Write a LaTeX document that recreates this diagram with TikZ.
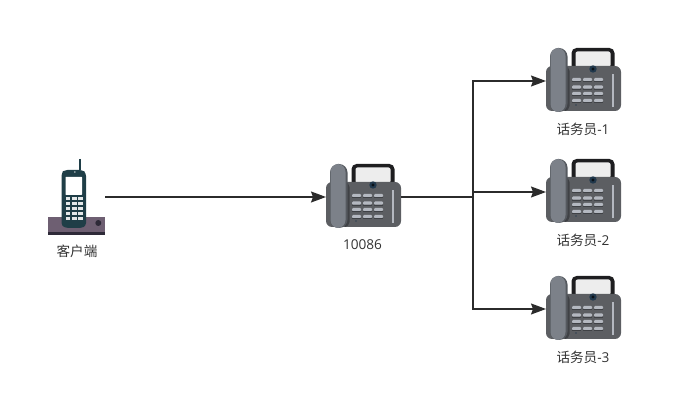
\documentclass[tikz,border=0pt]{standalone}
\usepackage{fontspec}
\setmainfont{Open Sans}
\newfontfamily\cjk{Noto Sans CJK SC}
\usetikzlibrary{arrows.meta}
\definecolor{linecol}{HTML}{2B2B2B}
\definecolor{txtcol}{HTML}{333333}
\definecolor{bodycol}{HTML}{5C5E62}
\definecolor{bodydark}{HTML}{3F4145}
\definecolor{handcol}{HTML}{7C8189}
\definecolor{handdark}{HTML}{55595F}
\definecolor{framecol}{HTML}{1E1E20}
\definecolor{screencol}{HTML}{EDEDED}
\definecolor{keycol}{HTML}{B4B8C0}
\definecolor{knobcol}{HTML}{21384C}
\definecolor{basecol}{HTML}{6E5F72}
\definecolor{basedark}{HTML}{2E2A38}
\definecolor{cellcol}{HTML}{1F3E47}
\tikzset{
  x=1pt,y=-1pt,
  holder/.style={inner sep=0pt,outer sep=0pt,minimum width=#1},
  conn/.style={draw=linecol,line width=1.5pt},
  arr/.style={conn,-{Stealth[length=15pt,width=11pt,inset=2pt]}},
  lab/.style={text=txtcol,font=\fontsize{13.6}{15}\selectfont,inner sep=0pt},
  phone/.pic={
    % coordinates relative to the phone's centre
    \fill[framecol,rounded corners=5pt] (-12,-33) rectangle (31,-10);
    \fill[screencol,rounded corners=2pt] (-8,-29.5) rectangle (27,-14);
    \fill[bodycol,rounded corners=6pt] (-37.5,-15) rectangle (37.5,30);
    \fill[bodydark,rounded corners=5pt] (-22,-15) rectangle (-14,30);
    \fill[handdark,rounded corners=8.5pt] (-33.5,-33) rectangle (-16,31);
    \fill[handcol,rounded corners=8pt] (-33,-33) rectangle (-18,31);
    \fill[knobcol] (9.5,-12) circle[radius=3.7];
    \fill[black!70!knobcol] (9.5,-12) circle[radius=1.6];
    \foreach \r in {-3,4.5,11,18}{
      \foreach \c in {-11.5,-0.5,10.5}{
        \fill[keycol,rounded corners=1pt] (\c,\r) rectangle ++(9,3.2);
        \fill[bodydark] (\c,\r+3.2) rectangle ++(9,0.7);
      }
    }
    \fill[keycol] (28,-7) rectangle (30.2,26);
    \fill[knobcol!70!bodycol] (-7.5,24) circle[radius=0.8];
  },
  client/.pic={
    \fill[basecol] (-28.5,20.5) rectangle (28.5,35);
    \fill[basedark] (-28.5,35) rectangle (28.5,38);
    \fill[basedark] (21.8,26) circle[radius=3];
    \draw[cellcol,line width=1.3pt] (3.5,-38) -- (3.5,-27);
    \fill[cellcol,rounded corners=3pt] (-15,-24) -- (-12,-27) -- (6,-27) -- (9.5,-24) -- (9.5,29) -- (5,31) -- (-10,31) -- (-15,29) -- cycle;
    \fill[white,rounded corners=0.5pt] (-11,-20) rectangle (5.5,-2);
    \fill[white] (-1.6,-25) circle[radius=0.7];
    \foreach \r in {0,5,10,15,20}{
      \foreach \c in {-11,-4.7,1.3}{
        \fill[white!88!cellcol] (\c,\r) rectangle ++(4.7,3.2);
      }
    }
  }
}
\begin{document}
\begin{tikzpicture}
\useasboundingbox (0,0) rectangle (683,403);
\node[holder=57pt,minimum height=76pt] (c) at (76.5,197) {};
\pic at (c.center) {client};
\node[holder=75pt,minimum height=65pt] (p0) at (363.5,197) {};
\node[holder=75pt,minimum height=65pt] (p1) at (583.5,81) {};
\node[holder=75pt,minimum height=65pt] (p2) at (583.5,192) {};
\node[holder=75pt,minimum height=65pt] (p3) at (583.5,309) {};
\foreach \n in {p0,p1,p2,p3}{\pic at (\n.center) {phone};}
\coordinate (j) at (473,197);
\draw[arr] (c.east) -- (p0.west);
\draw[conn] (p0.east) -- (j);
\draw[arr] (j) |- (p1.west);
\draw[arr] (j) |- (p2.west);
\draw[arr] (j) |- (p3.west);
\node[lab] (lc) at (77,251) {\cjk 客户端};
\node[lab] (l0) at (362.5,244.5) {10086};
\node[lab] (l1) at (583,129) {\cjk 话务员\rmfamily -1};
\node[lab] (l2) at (583,240) {\cjk 话务员\rmfamily -2};
\node[lab] (l3) at (583,357) {\cjk 话务员\rmfamily -3};
\end{tikzpicture}
\end{document}
